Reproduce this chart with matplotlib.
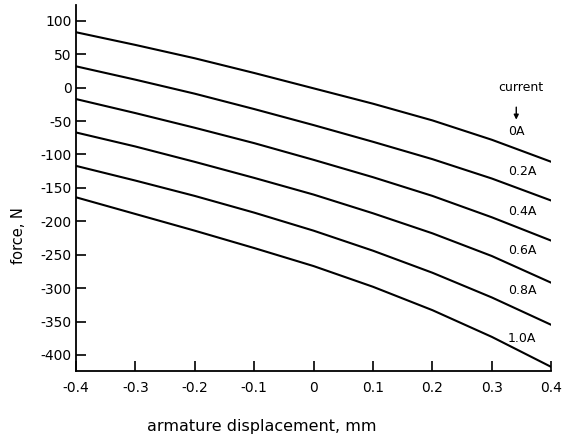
import numpy as np
import matplotlib
matplotlib.use("Agg")
import matplotlib.pyplot as plt

displacement = [-0.4, -0.3, -0.2, -0.1, 0.0, 0.1, 0.2, 0.3, 0.4]

# force (N) for each coil current
currents = ["0A", "0.2A", "0.4A", "0.6A", "0.8A", "1.0A"]
force_0a = [83, 64, 44, 22, -1, -24, -49, -78, -111]
force_02a = [32, 12, -9, -32, -56, -81, -107, -136, -169]
force_04a = [-17, -38, -60, -83, -108, -134, -162, -194, -229]
force_06a = [-67, -88, -111, -135, -160, -188, -218, -252, -292]
force_08a = [-117, -139, -162, -187, -214, -244, -277, -314, -355]
force_10a = [-164, -189, -214, -240, -267, -298, -333, -373, -418]
forces = [force_0a, force_02a, force_04a, force_06a, force_08a, force_10a]

# label heights (N) next to the right end of each curve
label_y = [-66, -125, -185, -244, -304, -375]

xticks = [-0.4, -0.3, -0.2, -0.1, 0, 0.1, 0.2, 0.3, 0.4]
xtick_labels = ["-0.4", "-0.3", "-0.2", "-0.1", "0", "0.1", "0.2", "0.3", "0.4"]
yticks = [100, 50, 0, -50, -100, -150, -200, -250, -300, -350, -400]

plt.rcParams['axes.unicode_minus'] = False
plt.rcParams['font.family'] = 'DejaVu Sans'

fig = plt.figure(figsize=(5.62, 4.38), dpi=100)
ax = fig.add_axes([0.135, 0.153, 0.846, 0.836])

for f in forces:
    ax.plot(displacement, f, color='black', lw=1.5)

for name, y in zip(currents, label_y):
    ax.text(0.327, y, name, fontsize=9, ha='left', va='center')

ax.text(0.349, 0, "current", fontsize=9, ha='center', va='center')
ax.annotate("", xy=(0.341, -52), xytext=(0.341, -25),
            arrowprops=dict(arrowstyle='-|>', color='black', lw=1,
                            mutation_scale=7))

ax.set_xlim(-0.4, 0.4)
ax.set_ylim(-424, 124)
ax.set_xticks(xticks)
ax.set_xticklabels(xtick_labels)
ax.set_yticks(yticks)

ax.spines['top'].set_visible(False)
ax.spines['right'].set_visible(False)
ax.spines['left'].set_linewidth(1.3)
ax.spines['bottom'].set_linewidth(1.3)
ax.tick_params(direction='in', length=7, width=1.2, labelsize=10)
ax.tick_params(axis='x', pad=7)
ax.tick_params(axis='y', pad=3)

fig.text(261.5 / 562, 0.027, "armature displacement, mm", fontsize=11.5,
         ha='center', va='center')
fig.text(18.5 / 562, 0.463, "force, N", fontsize=10.5, rotation=90,
         ha='center', va='center')

fig.savefig("out.png", dpi=100)
